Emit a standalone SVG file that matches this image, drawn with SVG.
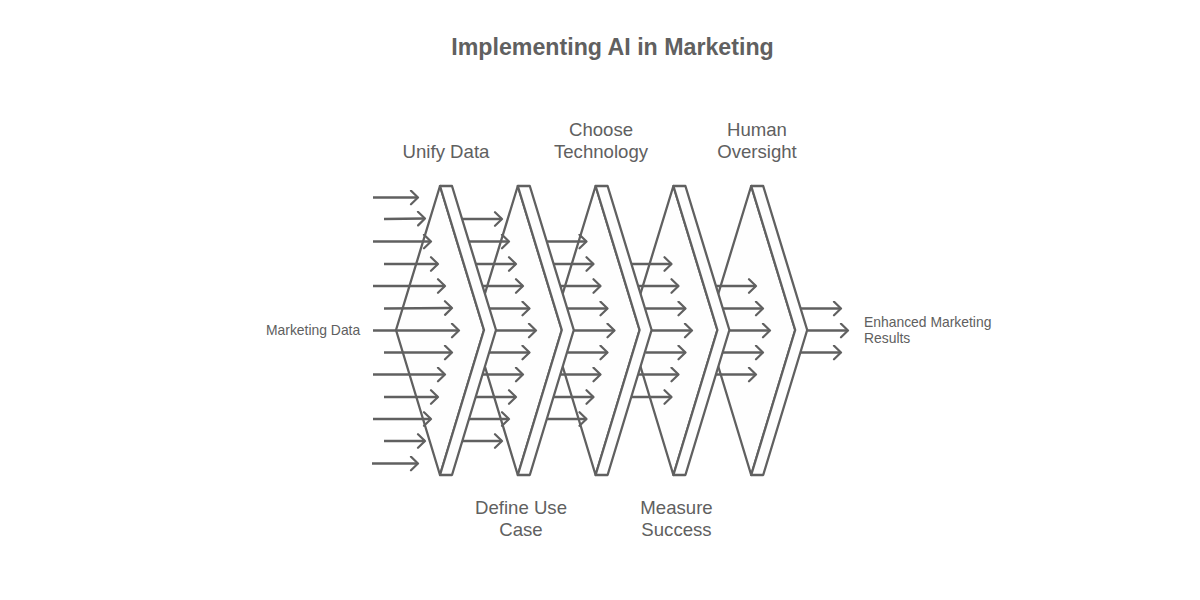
<svg xmlns="http://www.w3.org/2000/svg" width="1200" height="600" viewBox="0 0 1200 600">
<style>
text{font-family:"Liberation Sans",Arial,sans-serif;fill:#606060}
.t{font-size:23.200px;font-weight:700;text-anchor:middle}
.l{font-size:18.600px;text-anchor:middle}
.s{font-size:13.900px}
.c{fill:#fefefe;stroke:#606060;stroke-width:2.300;stroke-linejoin:round}
.a line{stroke:#606060;stroke-width:2.400;stroke-linecap:butt;marker-end:url(#h)}
</style>
<defs>
<marker id="h" markerUnits="userSpaceOnUse" markerWidth="14" markerHeight="18" refX="11" refY="8" orient="auto"><path d="M4,1.200 L11,8 L4,14.800" fill="none" stroke="#606060" stroke-width="2.200" stroke-linecap="round" stroke-linejoin="round"/></marker>
<g id="chev"><path class="c" d="M440,186 L396,330 L440,475 L484,330 Z"/><path class="c" d="M440,186 L452,186 L496,330 L452,475 L440,475 L484,330 Z"/></g>
</defs>
<rect width="1200" height="600" fill="#ffffff"/>
<text class="t" x="612.500" y="55">Implementing AI in Marketing</text>
<g id="step5"><use href="#chev" x="311.200"/><text class="l" x="757" y="135.500">Human</text><text class="l" x="757" y="158">Oversight</text></g>
<g id="step4"><use href="#chev" x="233.400"/><text class="l" x="676.500" y="513.500">Measure</text><text class="l" x="676.500" y="536">Success</text></g>
<g id="step3"><use href="#chev" x="155.600"/><text class="l" x="601" y="135.500">Choose</text><text class="l" x="601" y="158">Technology</text></g>
<g id="step2"><use href="#chev" x="77.800"/><text class="l" x="521" y="513.500">Define Use</text><text class="l" x="521" y="536">Case</text></g>
<g id="step1"><use href="#chev"/><text class="l" x="446" y="158">Unify Data</text></g>
<g id="input"><text class="s" x="266" y="335">Marketing Data</text></g>
<g id="output"><text class="s" x="864" y="326.500">Enhanced Marketing</text><text class="s" x="864" y="343">Results</text></g>
<g id="connectors" class="a">
<line x1="373" y1="197.500" x2="418" y2="197.500"/><line x1="384" y1="219" x2="425" y2="218.500"/><line x1="373" y1="241.500" x2="431" y2="241.500"/><line x1="384" y1="264" x2="438" y2="264"/><line x1="373" y1="286" x2="445" y2="286"/><line x1="384" y1="308.500" x2="452" y2="308"/><line x1="373" y1="330.500" x2="459" y2="330.500"/><line x1="384" y1="352.500" x2="452" y2="352.500"/><line x1="373" y1="374.500" x2="445" y2="374.500"/><line x1="384" y1="397" x2="438" y2="397"/><line x1="373" y1="419" x2="431" y2="419"/><line x1="384" y1="441" x2="425" y2="441"/><line x1="372" y1="463.500" x2="418" y2="463.500"/>
<line x1="462" y1="219" x2="502" y2="219"/><line x1="469" y1="241.500" x2="509" y2="241.500"/><line x1="476" y1="264" x2="516" y2="264"/><line x1="482.500" y1="286" x2="523" y2="286"/><line x1="489.500" y1="308.500" x2="529.500" y2="308.500"/><line x1="496" y1="330.500" x2="536" y2="330.500"/><line x1="489.500" y1="352.500" x2="529.500" y2="352.500"/><line x1="482.500" y1="374.500" x2="523" y2="374.500"/><line x1="476" y1="397" x2="516" y2="397"/><line x1="469" y1="419" x2="509" y2="419"/><line x1="462" y1="441" x2="502" y2="441"/>
<line x1="547" y1="241.500" x2="586.500" y2="241.500"/><line x1="554" y1="264" x2="593.500" y2="264"/><line x1="560.500" y1="286" x2="600.500" y2="286"/><line x1="567.500" y1="308.500" x2="607.500" y2="308.500"/><line x1="574" y1="330.500" x2="614.500" y2="330.500"/><line x1="567.500" y1="352.500" x2="607.500" y2="352.500"/><line x1="560.500" y1="374.500" x2="600.500" y2="374.500"/><line x1="554" y1="397" x2="593.500" y2="397"/><line x1="547" y1="419" x2="586.500" y2="419"/>
<line x1="631.500" y1="264" x2="671.500" y2="264"/><line x1="638.500" y1="286" x2="678.500" y2="286"/><line x1="645.500" y1="308.500" x2="685.500" y2="308.500"/><line x1="652" y1="330.500" x2="692" y2="330.500"/><line x1="645.500" y1="352.500" x2="685.500" y2="352.500"/><line x1="638.500" y1="374.500" x2="678.500" y2="374.500"/><line x1="631.500" y1="397" x2="671.500" y2="397"/>
<line x1="716" y1="286" x2="756" y2="286"/><line x1="723" y1="308.500" x2="763" y2="308.500"/><line x1="730" y1="330.500" x2="770" y2="330.500"/><line x1="723" y1="352.500" x2="763" y2="352.500"/><line x1="716" y1="374.500" x2="756" y2="374.500"/>
<line x1="801" y1="308.500" x2="841" y2="308.500"/><line x1="807.500" y1="330.500" x2="848" y2="330.500"/><line x1="801" y1="352.500" x2="841" y2="352.500"/>
</g>
</svg>
